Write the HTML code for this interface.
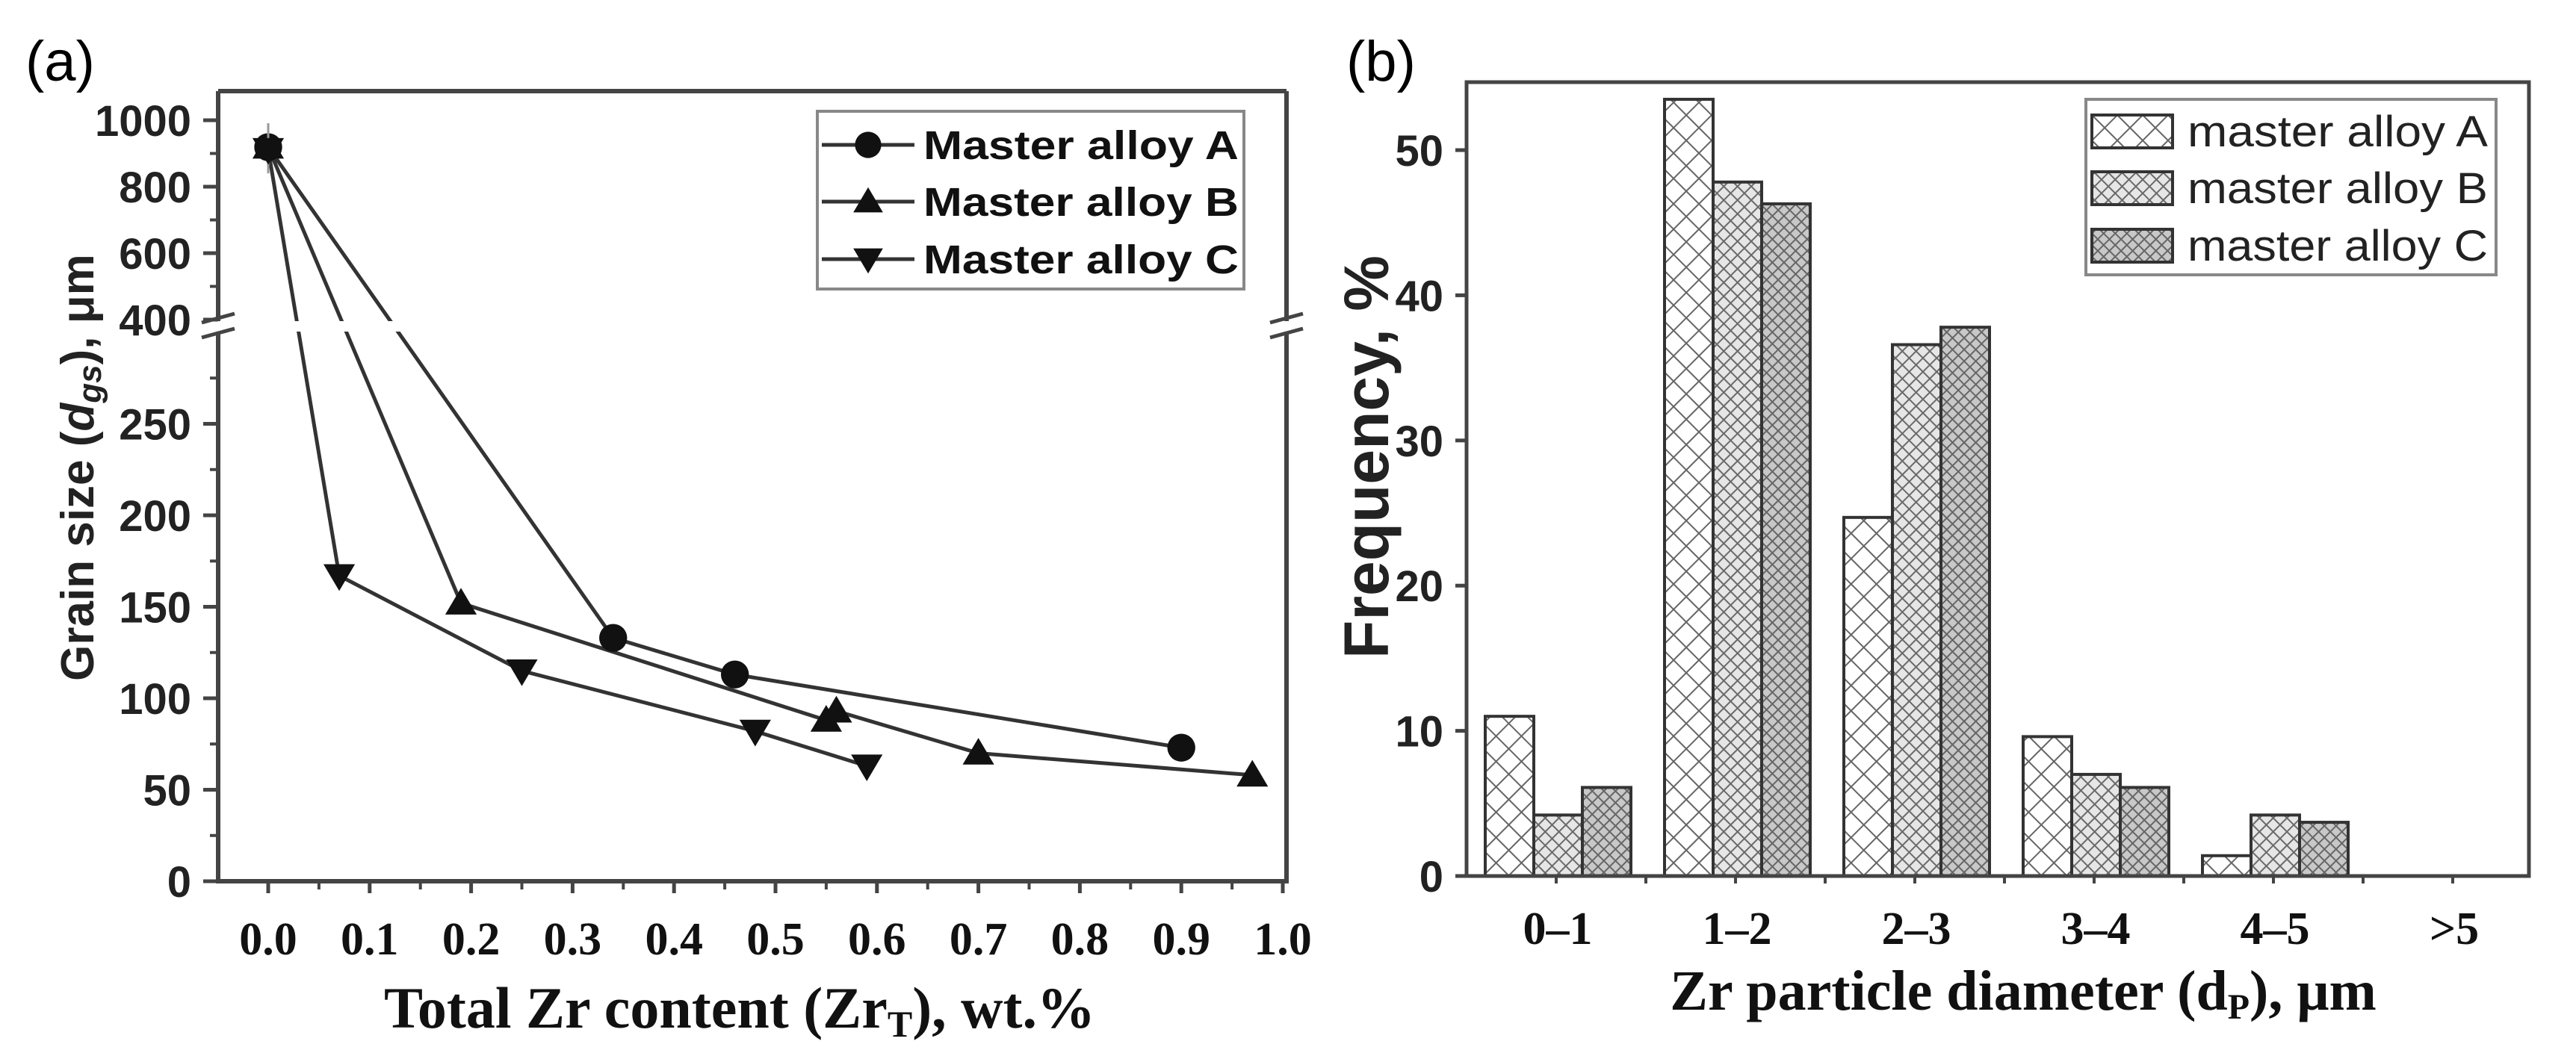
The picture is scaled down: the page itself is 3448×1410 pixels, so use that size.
<!DOCTYPE html>
<html><head><meta charset="utf-8"><style>
html,body{margin:0;padding:0;background:#fff;}
svg{display:block;}
</style></head><body>
<svg id="fig" width="3448" height="1410" viewBox="0 0 3448 1410" xmlns="http://www.w3.org/2000/svg">
<defs>
<pattern id="patA" width="24" height="24" patternUnits="userSpaceOnUse" patternTransform="rotate(45)"><rect width="24" height="24" fill="#fff"/><path d="M0 0H24M0 0V24" stroke="#666" stroke-width="4"/></pattern>
<pattern id="patB" width="13" height="13" patternUnits="userSpaceOnUse" patternTransform="rotate(45)"><rect width="13" height="13" fill="#e6e6e6"/><path d="M0 0H13M0 0V13" stroke="#6a6a6a" stroke-width="4"/></pattern>
<pattern id="patC" width="11" height="11" patternUnits="userSpaceOnUse" patternTransform="rotate(45)"><rect width="11" height="11" fill="#c8c8c8"/><path d="M0 0H11M0 0V11" stroke="#666" stroke-width="4"/></pattern>
</defs>
<g id="panelA"></g>
<g id="panelB"></g>
</svg>
<script>
// ---- Panel (a) data ----
const xTicksA = [0.0,0.1,0.2,0.3,0.4,0.5,0.6,0.7,0.8,0.9,1.0];
const xTickLabelsA = ["0.0","0.1","0.2","0.3","0.4","0.5","0.6","0.7","0.8","0.9","1.0"];
const yTicksLowA = [0,50,100,150,200,250];
const yTicksHighA = [400,600,800,1000];
const seriesNamesA = ["Master alloy A","Master alloy B","Master alloy C"];
const xA_A = [0, 0.34, 0.46, 0.90];
const yA_A = [919, 133, 113, 73];
const xA_B = [0, 0.19, 0.55, 0.56, 0.70, 0.97];
const yA_B = [919, 152, 88, 93, 70, 58];
const xA_C = [0, 0.07, 0.25, 0.48, 0.59];
const yA_C = [912, 167, 115, 82, 63];
// ---- Panel (b) data ----
const categoriesB = ["0\u20131","1\u20132","2\u20133","3\u20134","4\u20135",">5"];
const seriesNamesB = ["master alloy A","master alloy B","master alloy C"];
const freqA = [11.0, 53.5, 24.7, 9.6, 1.4, 0];
const freqB = [4.2, 47.8, 36.6, 7.0, 4.2, 0];
const freqC = [6.1, 46.3, 37.8, 6.1, 3.7, 0];
const yTicksB = [0,10,20,30,40,50];

const NS="http://www.w3.org/2000/svg";
function mk(parent,tag,attrs,text){const e=document.createElementNS(NS,tag);for(const k in attrs)e.setAttribute(k,attrs[k]);if(text!==undefined)e.textContent=text;parent.appendChild(e);return e;}

// ===== Panel A =====
const gA=document.getElementById('panelA');
const AX0=292, AX1=1722, ATOP=122, ABOT=1180;
function sxA(v){return 359+v*1358;}
function syA(v){return v<=300?1180-v*2.45:428-(v-400)*0.445;}
const axc="#444";
let t;
t=mk(gA,'text',{x:34,y:108,'font-family':'Liberation Sans, sans-serif','font-size':76});t.textContent='(a)';


let fr=mk(gA,'g',{});


mk(fr,'line',{x1:AX0,y1:ATOP,x2:AX1,y2:ATOP,stroke:axc,'stroke-width':6});
mk(fr,'line',{x1:AX0,y1:ABOT,x2:AX1+3,y2:ABOT,stroke:axc,'stroke-width':6});
mk(fr,'line',{x1:AX0,y1:ATOP,x2:AX0,y2:ABOT+3,stroke:axc,'stroke-width':6});
mk(fr,'line',{x1:AX1,y1:ATOP,x2:AX1,y2:ABOT,stroke:axc,'stroke-width':6});
const ser=[[xA_A,yA_A,'circle'],[xA_B,yA_B,'up'],[xA_C,yA_C,'down']];
const names=['series-master-alloy-a','series-master-alloy-b','series-master-alloy-c'];
ser.forEach((s,i)=>{
  const pts=s[0].map((x,j)=>sxA(x)+','+syA(s[1][j])).join(' ');
  const pl=mk(gA,'polyline',{points:pts,fill:'none',stroke:'#333','stroke-width':5});
  
  
});
mk(gA,'rect',{x:AX0-40,y:430,width:AX1-AX0+80,height:14,fill:'#fff'});
function brk(x){mk(gA,'line',{x1:x-22,y1:432,x2:x+22,y2:420,stroke:axc,'stroke-width':5});mk(gA,'line',{x1:x-22,y1:452,x2:x+22,y2:440,stroke:axc,'stroke-width':5});}
brk(AX0);brk(AX1);
function marker(g,type,cx,cy,s){
  if(type==='circle')return mk(g,'circle',{cx:cx,cy:cy,r:s*0.55,fill:'#111'});
  if(type==='up')return mk(g,'polygon',{points:`${cx},${cy-s*0.6} ${cx-s*0.62},${cy+s*0.45} ${cx+s*0.62},${cy+s*0.45}`,fill:'#111'});
  return mk(g,'polygon',{points:`${cx},${cy+s*0.6} ${cx-s*0.62},${cy-s*0.45} ${cx+s*0.62},${cy-s*0.45}`,fill:'#111'});
}
ser.forEach((s,i)=>{
  s[0].forEach((x,j)=>{
    const cx=sxA(x),cy=syA(s[1][j]);
    mk(gA,'line',{x1:cx,y1:cy-(j===0?32:14),x2:cx,y2:cy+(j===0?32:14),stroke:'#999','stroke-width':3});
    const m=marker(gA,s[2],cx,cy,34);
    
    
  });
});
yTicksLowA.forEach(v=>{const y=syA(v);mk(gA,'line',{x1:AX0-20,y1:y,x2:AX0,y2:y,stroke:axc,'stroke-width':5});
  const tx=mk(gA,'text',{x:256,y:y+21,'text-anchor':'end','font-family':'Liberation Sans, sans-serif','font-weight':'bold','font-size':58,fill:'#222'},String(v));
  
  
  if(v<250){const ym=syA(v+25);mk(gA,'line',{x1:AX0-11,y1:ym,x2:AX0,y2:ym,stroke:axc,'stroke-width':4});}
});
mk(gA,'line',{x1:AX0-11,y1:syA(275),x2:AX0,y2:syA(275),stroke:axc,'stroke-width':4});
yTicksHighA.forEach(v=>{const y=syA(v);mk(gA,'line',{x1:AX0-20,y1:y,x2:AX0,y2:y,stroke:axc,'stroke-width':5});
  const tx=mk(gA,'text',{x:256,y:y+21,'text-anchor':'end','font-family':'Liberation Sans, sans-serif','font-weight':'bold','font-size':58,fill:'#222'},String(v));
  
  
  if(v<1000){const ym=syA(v+100);mk(gA,'line',{x1:AX0-11,y1:ym,x2:AX0,y2:ym,stroke:axc,'stroke-width':4});}
});
xTicksA.forEach((v,i)=>{const x=sxA(v);mk(gA,'line',{x1:x,y1:ABOT,x2:x,y2:ABOT+16,stroke:axc,'stroke-width':5});
  if(i<xTicksA.length-1){const xm=sxA(v+0.05);mk(gA,'line',{x1:xm,y1:ABOT,x2:xm,y2:ABOT+11,stroke:axc,'stroke-width':4});}
  const tx=mk(gA,'text',{x:x,y:1278,'text-anchor':'middle','font-family':'Liberation Serif, serif','font-weight':'bold','font-size':62,fill:'#111'},xTickLabelsA[i]);
  
  
});
t=mk(gA,'text',{x:990,y:1376,'text-anchor':'middle','font-family':'Liberation Serif, serif','font-weight':'bold','font-size':78,fill:'#111'});
t.innerHTML='Total Zr content (Zr<tspan font-size="50" dy="12">T</tspan><tspan dy="-12">), wt.%</tspan>';


t=mk(gA,'text',{x:0,y:0,transform:'translate(125,626) rotate(-90)','text-anchor':'middle','font-family':'Liberation Sans, sans-serif','font-weight':'bold','font-size':62,fill:'#222'});
t.innerHTML='Grain size (<tspan font-style="italic">d</tspan><tspan font-style="italic" font-size="44" dy="10">gs</tspan><tspan dy="-10">), μm</tspan>';


const lgA=mk(gA,'g',{});


mk(lgA,'rect',{x:1094,y:149,width:571,height:238,fill:'#fff',stroke:'#888','stroke-width':4});
const lyA=[194,270,347], mtA=['circle','up','down'];
seriesNamesA.forEach((n,i)=>{
  const e=mk(lgA,'g',{});
  
  
  mk(e,'line',{x1:1100,y1:lyA[i],x2:1224,y2:lyA[i],stroke:'#333','stroke-width':5});
  marker(e,mtA[i],1162,lyA[i],32);
  mk(e,'text',{x:1236,y:lyA[i]+19,'font-family':'Liberation Sans, sans-serif','font-weight':'bold','font-size':54,textLength:422,lengthAdjust:'spacingAndGlyphs',fill:'#111'},n);
});

// ===== Panel B =====
const gB=document.getElementById('panelB');
const BX0=1963, BX1=3385, BTOP=110, BBOT=1173;
function syB(v){return BBOT-v*19.44;}
function sxB(g){return 1988+g*240;}
const BW=65;
t=mk(gB,'text',{x:1802,y:108,'font-family':'Liberation Sans, sans-serif','font-size':76});t.textContent='(b)';


const pats=['url(#patA)','url(#patB)','url(#patC)'];
const bnames=['bar-master-alloy-a','bar-master-alloy-b','bar-master-alloy-c'];
[freqA,freqB,freqC].forEach((arr,s)=>{
  arr.forEach((v,g)=>{
    if(v<=0)return;
    const x=sxB(g)+s*BW, y=syB(v);
    const r=mk(gB,'rect',{x:x,y:y,width:BW,height:BBOT-y,fill:pats[s],stroke:'#333','stroke-width':4});
    
    
  });
});
let frB=mk(gB,'g',{});


mk(frB,'rect',{x:BX0,y:BTOP,width:BX1-BX0,height:BBOT-BTOP,fill:'none',stroke:axc,'stroke-width':5});
yTicksB.forEach(v=>{const y=syB(v);mk(gB,'line',{x1:BX0-15,y1:y,x2:BX0,y2:y,stroke:axc,'stroke-width':5});
  const tx=mk(gB,'text',{x:1932,y:y+21,'text-anchor':'end','font-family':'Liberation Sans, sans-serif','font-weight':'bold','font-size':58,fill:'#222'},String(v));
  
  
});
for(let k=0;k<12;k++){const x=2083+k*120-120;if(x>BX0&&x<BX1)mk(gB,'line',{x1:x,y1:BBOT,x2:x,y2:BBOT+10,stroke:axc,'stroke-width':4});}
categoriesB.forEach((c,g)=>{
  const tx=mk(gB,'text',{x:sxB(g)+97,y:1264,'text-anchor':'middle','font-family':'Liberation Serif, serif','font-weight':'bold','font-size':62,fill:'#111'},c);
  
  
});
t=mk(gB,'text',{x:2708,y:1352,'text-anchor':'middle','font-family':'Liberation Serif, serif','font-weight':'bold','font-size':76,fill:'#111'});
t.innerHTML='Zr particle diameter (d<tspan font-size="48" dy="12">P</tspan><tspan dy="-12">), μm</tspan>';


t=mk(gB,'text',{x:0,y:0,transform:'translate(1858,612) rotate(-90)','text-anchor':'middle','font-family':'Liberation Sans, sans-serif','font-weight':'bold','font-size':84,textLength:540,lengthAdjust:'spacingAndGlyphs',fill:'#222'},'Frequency, %');


const lgB=mk(gB,'g',{});


mk(lgB,'rect',{x:2792,y:133,width:549,height:235,fill:'#fff',stroke:'#888','stroke-width':4});
const lyB=[176,252,329];
seriesNamesB.forEach((n,i)=>{
  const e=mk(lgB,'g',{});
  
  
  mk(e,'rect',{x:2800,y:lyB[i]-22,width:108,height:44,fill:pats[i],stroke:'#333','stroke-width':4});
  mk(e,'text',{x:2928,y:lyB[i]+20,'font-family':'Liberation Sans, sans-serif','font-size':58,textLength:402,lengthAdjust:'spacingAndGlyphs',fill:'#222'},n);
});
</script>
</body></html>
